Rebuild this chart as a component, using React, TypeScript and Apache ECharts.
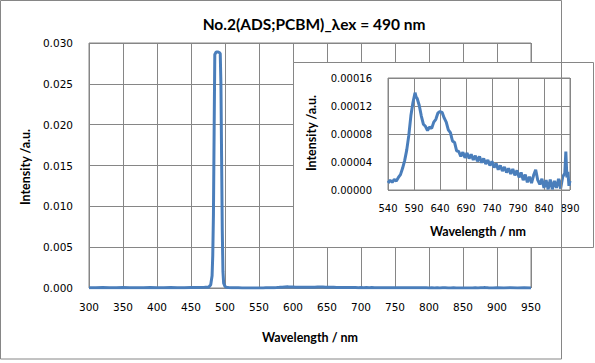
import React, { useEffect, useRef } from 'react';
import * as echarts from 'echarts';

const titleText = 'No.2(ADS;PCBM)_λex = 490 nm';
const xTitle = 'Wavelength / nm';
const yTitle = 'Intensity /a.u.';

// Excitation-region part of the main spectrum (300 - 536 nm)
const excitationWavelength = [
  300, 310, 320, 330, 340, 350, 360, 370, 380, 390, 400, 410, 420, 430, 440, 450, 460, 470,
  476, 479, 481, 482, 483, 484, 485, 487, 490, 492, 493, 494, 495, 496, 497, 498, 500, 502,
  505, 510, 515, 520, 525, 530, 536,
];
const excitationIntensity = [
  0.00004, 0.00003, 0.00005, 0.00004, 0.00003, 0.00005, 0.00004, 0.00003, 0.00004, 0.00005,
  0.00004, 0.00003, 0.00005, 0.00004, 0.00004, 0.00005, 0.00006, 0.00008,
  0.0001, 0.0004, 0.0015, 0.004, 0.009, 0.019, 0.0286, 0.0289, 0.0289, 0.0288, 0.0287,
  0.025, 0.016, 0.007, 0.002, 0.0006, 0.0002, 0.0001,
  0.00005, 0.00003, 0.00002, 0.00002, 0.00001, 0.00001, 0.00001,
];

// Emission spectrum (inset range, 540 - 890 nm)
const emissionWavelength = [
  540, 544, 548, 552, 556, 560, 564, 568, 572, 576, 580, 584, 588, 592, 594, 596, 600, 604,
  608, 612, 616, 620, 624, 628, 632, 636, 640, 644, 648, 652, 656, 660, 664, 668, 672, 676,
  680, 684, 688, 692, 696, 700, 704, 708, 712, 716, 720, 724, 728, 732, 736, 740, 744, 748,
  752, 756, 760, 764, 768, 772, 776, 780, 784, 788, 792, 796, 800, 804, 808, 812, 816, 820,
  824, 828, 832, 836, 840, 844, 848, 852, 856, 860, 864, 868, 872, 876, 880, 882, 884, 886,
  888, 890,
];
const emissionIntensity = [
  0.000010, 0.000014, 0.000011, 0.000015, 0.000013, 0.000018, 0.000022, 0.000031, 0.000042,
  0.000057, 0.000078, 0.000106, 0.000125, 0.000139, 0.000133, 0.000131, 0.000121, 0.000106,
  0.000094, 0.000091, 0.000085, 0.000090, 0.000088, 0.000097, 0.000101, 0.000110, 0.000112,
  0.000111, 0.000103, 0.000097, 0.000086, 0.000082, 0.000070, 0.000068, 0.000056, 0.000055,
  0.000048, 0.000054, 0.000046, 0.000053, 0.000045, 0.000051, 0.000043, 0.000049, 0.000041,
  0.000048, 0.000039, 0.000045, 0.000037, 0.000043, 0.000035, 0.000041, 0.000032, 0.000038,
  0.000029, 0.000035, 0.000027, 0.000033, 0.000025, 0.000031, 0.000023, 0.000030, 0.000021,
  0.000028, 0.000018, 0.000025, 0.000014, 0.000022, 0.000011, 0.000019, 0.000010, 0.000021,
  0.000029, 0.000014, 0.000008, 0.000016, 0.000003, 0.000014, 0.000001, 0.000015, 0.000001,
  0.000013, 0.000003, 0.000016, 0.000002, 0.000019, 0.000024, 0.000055, 0.000018, 0.000026,
  0.000006, 0.000013,
];

// Tail of the main spectrum (894 - 950 nm)
const tailWavelength = [894, 900, 910, 920, 930, 940, 950];
const tailIntensity = [0.00001, 0.00002, 0.00001, 0.00002, 0.00001, 0.00002, 0.00001];

const mainXTicks = { min: 300, max: 950, interval: 50 };
const mainYTicks = { min: 0, max: 0.03, interval: 0.005 };
const insetXTicks = { min: 540, max: 890, interval: 50 };
const insetYTicks = { min: 0, max: 0.00016, interval: 0.00004 };

const LINE = '#4a7ebb';
const GRID = '#868686';

export default function App() {
  const ref = useRef<HTMLDivElement>(null);
  useEffect(() => {
    document.body.style.margin = '0';
    const chart = echarts.init(ref.current!, null, { renderer: 'svg' });
    const zip = (xs: number[], ys: number[]) => xs.map((x, i) => [x, ys[i]]);
    const mainData = [
      ...zip(excitationWavelength, excitationIntensity),
      ...zip(emissionWavelength, emissionIntensity),
      ...zip(tailWavelength, tailIntensity),
    ];
    const insetData = zip(emissionWavelength, emissionIntensity);
    const tickFont = { color: '#000', fontFamily: 'DejaVu Sans' };
    const titleFont = { fill: '#000', fontFamily: 'Lato', fontWeight: 'bold' as const };
    const centered = { align: 'center', verticalAlign: 'middle', textAlign: 'center', textVerticalAlign: 'middle' };

    chart.setOption({
      animation: false,
      backgroundColor: '#fff',
      grid: [
        { left: 89, top: 43, width: 442, height: 245, show: true, borderColor: GRID, borderWidth: 1, z: 0 },
        { left: 388, top: 78, width: 182, height: 112, show: true, borderColor: GRID, borderWidth: 1, z: 10 },
      ],
      xAxis: [
        {
          type: 'value', gridIndex: 0, ...mainXTicks,
          axisLine: { show: false }, axisTick: { show: false },
          splitLine: { show: true, lineStyle: { color: GRID, width: 1 } },
          axisLabel: { ...tickFont, fontSize: 10.5, margin: 13 },
        },
        {
          type: 'value', gridIndex: 1, ...insetXTicks, z: 10,
          axisLine: { show: false }, axisTick: { show: false },
          splitLine: { show: true, lineStyle: { color: GRID, width: 1 } },
          axisLabel: { ...tickFont, fontSize: 10, margin: 13 },
        },
      ],
      yAxis: [
        {
          type: 'value', gridIndex: 0, ...mainYTicks,
          axisLine: { show: false }, axisTick: { show: false },
          splitLine: { show: true, lineStyle: { color: GRID, width: 1 } },
          axisLabel: { ...tickFont, fontSize: 10.5, margin: 16, formatter: (v: number) => v.toFixed(3) },
        },
        {
          type: 'value', gridIndex: 1, ...insetYTicks, z: 10,
          axisLine: { show: false }, axisTick: { show: false },
          splitLine: { show: true, lineStyle: { color: GRID, width: 1 } },
          axisLabel: { ...tickFont, fontSize: 10, margin: 16, formatter: (v: number) => v.toFixed(5) },
        },
      ],
      series: [
        {
          type: 'line', xAxisIndex: 0, yAxisIndex: 0, data: mainData, showSymbol: false,
          lineStyle: { color: LINE, width: 3 }, itemStyle: { color: LINE }, z: 2,
        },
        {
          type: 'line', xAxisIndex: 1, yAxisIndex: 1, data: insetData, showSymbol: false,
          lineStyle: { color: LINE, width: 3 }, itemStyle: { color: LINE }, z: 12,
        },
      ],
      graphic: [
        { type: 'rect', z: 5, shape: { x: 293.5, y: 62.5, width: 300, height: 185 }, style: { fill: '#fff', stroke: GRID, lineWidth: 1 } },
        { type: 'rect', z: 20, shape: { x: 0.5, y: 0.5, width: 561, height: 358.5 }, style: { fill: 'none', stroke: GRID, lineWidth: 1 } },
        { type: 'text', z: 20, x: 314, y: 24, style: { ...titleFont, ...centered, text: titleText, fontSize: 15.5 } },
        { type: 'text', z: 20, x: 310, y: 337, style: { ...titleFont, ...centered, text: xTitle, fontSize: 12.5 } },
        { type: 'text', z: 20, x: 25, y: 167, rotation: Math.PI / 2, style: { ...titleFont, ...centered, text: yTitle, fontSize: 12.5 } },
        { type: 'text', z: 20, x: 478, y: 231, style: { ...titleFont, ...centered, text: xTitle, fontSize: 12.5 } },
        { type: 'text', z: 20, x: 311, y: 133, rotation: Math.PI / 2, style: { ...titleFont, ...centered, text: yTitle, fontSize: 12.5 } },
      ],
    });
    return () => chart.dispose();
  }, []);
  return <div ref={ref} style={{ width: 595, height: 363 }} />;
}
